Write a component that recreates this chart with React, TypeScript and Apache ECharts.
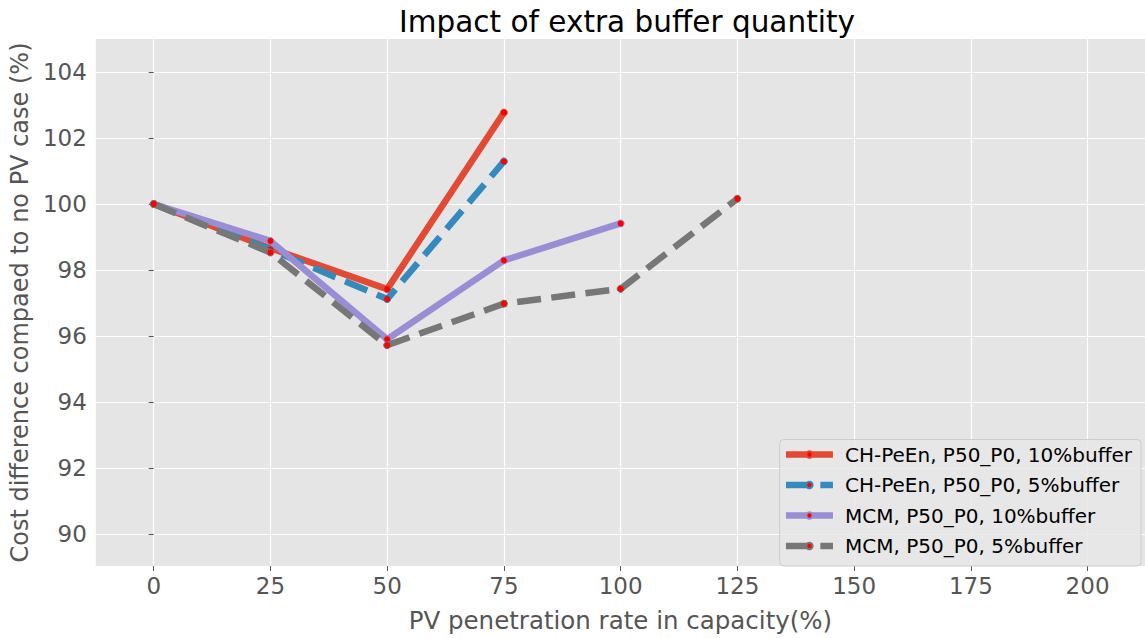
import React, { useEffect, useRef } from "react";
import * as echarts from "echarts";

const titleText = "Impact of extra buffer quantity";
const xName = "PV penetration rate in capacity(%)";
const yName = "Cost difference compaed to no PV case (%)";

const xTicks = [0, 25, 50, 75, 100, 125, 150, 175, 200];
const yTicks = [90, 92, 94, 96, 98, 100, 102, 104];

const chPeEn10X = [0, 25, 50, 75];
const chPeEn10Y = [100, 98.66, 97.42, 102.77];
const chPeEn5X = [0, 25, 50, 75];
const chPeEn5Y = [100, 98.62, 97.12, 101.29];
const mcm10X = [0, 25, 50, 75, 100];
const mcm10Y = [100, 98.88, 95.9, 98.29, 99.41];
const mcm5X = [0, 25, 50, 75, 100, 125];
const mcm5Y = [100, 98.53, 95.72, 96.98, 97.43, 100.16];

const seriesNames = [
  "CH-PeEn, P50_P0, 10%buffer",
  "CH-PeEn, P50_P0, 5%buffer",
  "MCM, P50_P0, 10%buffer",
  "MCM, P50_P0, 5%buffer",
];
const seriesColors = ["#E24A33", "#348ABD", "#988ED5", "#777777"];

const FONT = "DejaVu Sans";
const LW = 6.5;

function zip(xs: number[], ys: number[]) {
  return xs.map((x, i) => [x, ys[i]]);
}

export default function App() {
  const ref = useRef<HTMLDivElement>(null);
  useEffect(() => {
    if (!ref.current) return;
    const chart = echarts.init(ref.current, undefined, { renderer: "svg" });
    const datas = [
      zip(chPeEn10X, chPeEn10Y),
      zip(chPeEn5X, chPeEn5Y),
      zip(mcm10X, mcm10Y),
      zip(mcm5X, mcm5Y),
    ];
    const dashed = [false, true, false, true];
    chart.setOption({
      animation: false,
      backgroundColor: "#ffffff",
      textStyle: { fontFamily: FONT },
      title: {
        text: titleText,
        left: 622,
        textAlign: "center",
        top: 2,
        textStyle: { fontFamily: FONT, fontSize: 29.5, fontWeight: "normal", color: "#000000" },
      },
      grid: {
        left: 95,
        top: 39,
        width: 1055,
        height: 537,
        show: true,
        backgroundColor: "#E5E5E5",
        borderWidth: 0,
      },
      legend: {
        orient: "vertical",
        right: 4,
        bottom: 72,
        data: seriesNames,
        itemWidth: 47,
        itemHeight: 8,
        itemGap: 8.5,
        padding: [4, 9, 9, 3],
        backgroundColor: "rgba(232,232,232,0.85)",
        borderColor: "#cccccc",
        borderWidth: 1,
        borderRadius: 4,
        lineStyle: { width: LW },
        textStyle: {
          fontFamily: FONT,
          fontSize: 20,
          color: "#000000",
          lineHeight: 22,
          padding: [0, 0, 0, 7],
        },
      },
      xAxis: {
        type: "value",
        min: -12.4,
        max: 212.3,
        name: xName,
        nameLocation: "middle",
        nameGap: 42,
        nameTextStyle: { fontFamily: FONT, fontSize: 24.5, color: "#555555" },
        axisLine: { show: false },
        axisTick: { show: true, length: 5, lineStyle: { color: "#555555" }, customValues: xTicks },
        axisLabel: {
          customValues: xTicks,
          margin: 8,
          fontFamily: FONT,
          fontSize: 23,
          color: "#555555",
        },
        splitLine: { show: true, lineStyle: { color: "#ffffff", width: 1.2 } },
      },
      yAxis: {
        type: "value",
        min: 89.03,
        max: 105,
        name: yName,
        nameLocation: "middle",
        nameGap: 55,
        nameTextStyle: { fontFamily: FONT, fontSize: 24, color: "#555555" },
        axisLine: { show: false },
        axisTick: { show: true, length: 5, lineStyle: { color: "#555555" }, customValues: yTicks },
        axisLabel: {
          customValues: yTicks,
          margin: 9,
          fontFamily: FONT,
          fontSize: 23,
          color: "#555555",
        },
        splitLine: { show: true, lineStyle: { color: "#ffffff", width: 1.2 } },
      },
      series: datas.map((d, i) => ({
        name: seriesNames[i],
        type: "line",
        data: d,
        color: seriesColors[i],
        symbol: "circle",
        symbolSize: 7,
        showSymbol: true,
        itemStyle: { color: "#ff0000", borderColor: seriesColors[i], borderWidth: 1 },
        lineStyle: {
          color: seriesColors[i],
          width: LW,
          type: dashed[i] ? [24, 10.4] : "solid",
          cap: "butt",
          join: "round",
        },
        emphasis: { disabled: true },
        z: 2 + i,
      })),
    });
    return () => chart.dispose();
  }, []);
  return (
    <div
      ref={ref}
      style={{ position: "fixed", left: 0, top: 0, width: 1145, height: 638 }}
    />
  );
}
